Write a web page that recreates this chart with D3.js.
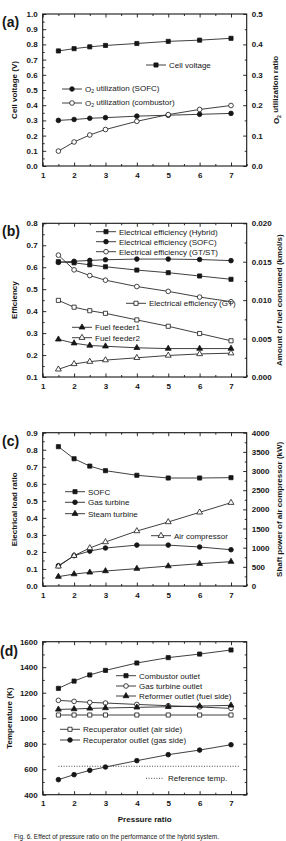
<!DOCTYPE html>
<html>
<head>
<meta charset="utf-8">
<script src="https://cdn.jsdelivr.net/npm/d3@7/dist/d3.min.js"></script>
<style>
body { margin:0; background:#fff; }
svg text { font-family: Arial, "Liberation Sans", sans-serif; fill:#161616; }
.tick text { font-weight:bold; font-size:8px; }
.legend text { font-size:8px; }
.title { font-weight:bold; font-size:8px; }
.plabel { font-weight:bold; font-size:14px; }
</style>
</head>
<body>
<svg id="chart" width="286" height="841"></svg>
<script>
//pressure ratio values shared by every panel
var pressureRatio = [1.5, 2, 2.5, 3, 4, 5, 6, 7];
var xTicks = [1, 2, 3, 4, 5, 6, 7];

//(a) cell voltage and O2 utilization
var cellVoltage = [0.757, 0.772, 0.784, 0.793, 0.806, 0.820, 0.828, 0.840];
var o2UtilSofc = [0.150, 0.153, 0.157, 0.159, 0.164, 0.167, 0.170, 0.173];
var o2UtilCombustor = [0.049, 0.079, 0.102, 0.120, 0.147, 0.169, 0.186, 0.199];
var aLeftTicks = [0.0, 0.1, 0.2, 0.3, 0.4, 0.5, 0.6, 0.7, 0.8, 0.9, 1.0];
var aRightTicks = [0.0, 0.1, 0.2, 0.3, 0.4, 0.5];

//(b) efficiencies and fuel consumed
var effHybrid = [0.625, 0.620, 0.611, 0.602, 0.587, 0.575, 0.560, 0.545];
var effSofc = [0.622, 0.627, 0.631, 0.634, 0.637, 0.637, 0.635, 0.630];
var effGtSt = [0.655, 0.588, 0.562, 0.541, 0.512, 0.490, 0.464, 0.443];
var effGt = [0.449, 0.418, 0.402, 0.390, 0.360, 0.331, 0.298, 0.265];
var fuelFeeder1 = [0.0049, 0.0044, 0.0041, 0.0040, 0.0038, 0.0037, 0.0037, 0.0037];
var fuelFeeder2 = [0.0010, 0.0017, 0.0020, 0.0022, 0.0025, 0.0028, 0.0030, 0.0031];
var bLeftTicks = [0.1, 0.2, 0.3, 0.4, 0.5, 0.6, 0.7, 0.8];
var bRightTicks = [0.000, 0.005, 0.010, 0.015, 0.020];

//(c) electrical load ratio and compressor power
var loadSofc = [0.818, 0.747, 0.704, 0.677, 0.650, 0.634, 0.634, 0.636];
var loadGasTurbine = [0.119, 0.178, 0.205, 0.223, 0.240, 0.240, 0.229, 0.213];
var loadSteamTurbine = [0.055, 0.070, 0.080, 0.088, 0.102, 0.117, 0.131, 0.143];
var airCompressorPower = [513, 791, 991, 1148, 1435, 1670, 1922, 2174];
var cLeftTicks = [0.0, 0.1, 0.2, 0.3, 0.4, 0.5, 0.6, 0.7, 0.8, 0.9];
var cRightTicks = [0, 500, 1000, 1500, 2000, 2500, 3000, 3500, 4000];

//(d) temperatures
var tCombustor = [1234, 1291, 1339, 1375, 1433, 1475, 1503, 1535];
var tGasTurbine = [1140, 1132, 1124, 1119, 1108, 1098, 1088, 1077];
var tReformer = [1069, 1072, 1077, 1080, 1085, 1090, 1095, 1101];
var tRecupAir = [1025, 1025, 1025, 1025, 1025, 1025, 1025, 1025];
var tRecupGas = [518, 557, 591, 617, 667, 714, 750, 792];
var tReference = 623;
var tReferenceSpan = [1.5, 7.25];
var dLeftTicks = [400, 600, 800, 1000, 1200, 1400, 1600];

var svg = d3.select("#chart");
var ink = "#161616";
var x = d3.scaleLinear().domain([1, 7.5]).range([42.7, 246.7]);

var symbols = {
	square: d3.symbol().type(d3.symbolSquare).size(17),
	circle: d3.symbol().type(d3.symbolCircle).size(17),
	triangle: d3.symbol().type(d3.symbolTriangle).size(15)
};

//midpoints between major ticks for the minor ticks
function minorOf(ticks) {
	return d3.pairs(ticks).map(function(p) { return (p[0]+p[1])/2; });
}

function drawMarker(g, shape, filled, px, py) {
	g.append("path")
		.attr("d", symbols[shape]())
		.attr("transform", "translate(" + px + "," + py + ")")
		.attr("fill", filled ? ink : "#fff")
		.attr("stroke", ink)
		.attr("stroke-width", 0.8);
}

function addText(sel, label) {
	//"O2" gets a subscript 2
	if (label.indexOf("O2") == 0) {
		sel.append("tspan").text("O");
		sel.append("tspan").text("2").attr("font-size", "0.65em").attr("dy", "0.3em");
		sel.append("tspan").text(label.slice(2)).attr("dy", "-0.3em");
	} else {
		sel.text(label);
	}
}

function drawPanel(p) {
	var g = svg.append("g");
	var bottom = p.top + p.height;
	var yL = d3.scaleLinear().domain(d3.extent(p.leftTicks)).range([bottom, p.top]);
	var yR = p.rightTicks ? d3.scaleLinear().domain(d3.extent(p.rightTicks)).range([bottom, p.top]) : yL;

	//axes, ticks pointing inward
	g.append("g").attr("transform", "translate(0," + bottom + ")")
		.call(d3.axisBottom(x).tickValues(xTicks).tickSize(-3.5).tickSizeOuter(0).tickPadding(6).tickFormat(d3.format("d")));
	g.append("g").attr("transform", "translate(0," + bottom + ")")
		.call(d3.axisBottom(x).tickValues(minorOf(xTicks).concat([7.5])).tickSize(-2).tickSizeOuter(0).tickFormat(""));
	g.append("g").attr("transform", "translate(0," + p.top + ")")
		.call(d3.axisTop(x).tickValues(xTicks).tickSize(-3.5).tickSizeOuter(0).tickFormat(""));
	g.append("g").attr("transform", "translate(0," + p.top + ")")
		.call(d3.axisTop(x).tickValues(minorOf(xTicks)).tickSize(-2).tickSizeOuter(0).tickFormat(""));

	g.append("g").attr("transform", "translate(" + x.range()[0] + ",0)")
		.call(d3.axisLeft(yL).tickValues(p.leftTicks).tickSize(-3.5).tickSizeOuter(0).tickPadding(5).tickFormat(d3.format(p.leftFormat)));
	g.append("g").attr("transform", "translate(" + x.range()[0] + ",0)")
		.call(d3.axisLeft(yL).tickValues(minorOf(p.leftTicks)).tickSize(-2).tickSizeOuter(0).tickFormat(""));

	var rTicks = p.rightTicks || p.leftTicks;
	g.append("g").attr("transform", "translate(" + x.range()[1] + ",0)")
		.call(d3.axisRight(yR).tickValues(rTicks).tickSize(-3.5).tickSizeOuter(0).tickPadding(5)
			.tickFormat(p.rightTicks ? d3.format(p.rightFormat) : ""));
	g.append("g").attr("transform", "translate(" + x.range()[1] + ",0)")
		.call(d3.axisRight(yR).tickValues(minorOf(rTicks)).tickSize(-2).tickSizeOuter(0).tickFormat(""));

	g.selectAll(".domain").remove();
	g.selectAll(".tick line").attr("stroke", ink).attr("stroke-width", 0.9);
	g.selectAll(".tick text").attr("fill", ink);

	//frame
	g.append("rect")
		.attr("x", x.range()[0]).attr("y", p.top)
		.attr("width", x.range()[1]-x.range()[0]).attr("height", p.height)
		.attr("fill", "none").attr("stroke", ink).attr("stroke-width", 1.1);

	//reference line (dotted)
	if (p.reference != undefined) {
		g.append("line")
			.attr("x1", x(tReferenceSpan[0])).attr("x2", x(tReferenceSpan[1]))
			.attr("y1", yL(p.reference)).attr("y2", yL(p.reference))
			.attr("stroke", "#333").attr("stroke-width", 0.9).attr("stroke-dasharray", "1,1.6");
	}

	//series lines and markers
	p.series.forEach(function(s) {
		var y = s.axis == "right" ? yR : yL;
		var line = d3.line().x(function(d, i) { return x(pressureRatio[i]); }).y(function(d) { return y(d); });
		g.append("path").datum(s.values)
			.attr("d", line).attr("fill", "none").attr("stroke", "#2a2a2a").attr("stroke-width", 0.9);
		s.values.forEach(function(v, i) {
			drawMarker(g, s.shape, s.filled, x(pressureRatio[i]), y(v));
		});
	});

	//legend entries
	var lg = g.append("g").classed("legend", true);
	p.series.forEach(function(s) {
		if (!s.legend) return;
		var lx = s.legend[0], ly = s.legend[1];
		lg.append("line").attr("x1", lx).attr("x2", lx+20).attr("y1", ly).attr("y2", ly)
			.attr("stroke", "#2a2a2a").attr("stroke-width", 0.9);
		drawMarker(lg, s.shape, s.filled, lx+10, ly);
		addText(lg.append("text").attr("x", lx+23).attr("y", ly+2.8), s.label);
	});
	if (p.reference != undefined) {
		var r = p.referenceLegend;
		lg.append("line").attr("x1", r[0]).attr("x2", r[0]+17).attr("y1", r[1]).attr("y2", r[1])
			.attr("stroke", "#333").attr("stroke-width", 0.9).attr("stroke-dasharray", "1,1.6");
		lg.append("text").attr("x", r[0]+22).attr("y", r[1]+2.8).text("Reference temp.");
	}

	//axis titles
	var midY = p.top + p.height/2;
	g.append("text").classed("title", true)
		.attr("transform", "translate(" + p.leftTitleX + "," + midY + ") rotate(-90)")
		.attr("text-anchor", "middle")
		.text(p.leftTitle);
	if (p.rightTitle) {
		addText(g.append("text").classed("title", true)
			.attr("transform", "translate(" + p.rightTitleX + "," + midY + ") rotate(-90)")
			.attr("text-anchor", "middle"), p.rightTitle);
	}

	//panel label
	g.append("text").classed("plabel", true)
		.attr("x", p.labelPos[0]).attr("y", p.labelPos[1])
		.text(p.label);
}

var panels = [
	{
		label: "(a)", labelPos: [2, 27], top: 14, height: 152,
		leftTicks: aLeftTicks, leftFormat: ".1f", rightTicks: aRightTicks, rightFormat: ".1f",
		leftTitle: "Cell voltage (V)", leftTitleX: 17, rightTitle: "O2 utilization ratio", rightTitleX: 279,
		series: [
			{values: cellVoltage, axis: "left", shape: "square", filled: true, label: "Cell voltage", legend: [146, 65]},
			{values: o2UtilSofc, axis: "right", shape: "circle", filled: true, label: "O2 utilization (SOFC)", legend: [62, 89]},
			{values: o2UtilCombustor, axis: "right", shape: "circle", filled: false, label: "O2 utilization (combustor)", legend: [62, 103]}
		]
	},
	{
		label: "(b)", labelPos: [2, 236], top: 223.3, height: 153.7,
		leftTicks: bLeftTicks, leftFormat: ".1f", rightTicks: bRightTicks, rightFormat: ".3f",
		leftTitle: "Efficiency", leftTitleX: 17, rightTitle: "Amount of fuel consumed (kmol/s)", rightTitleX: 282,
		series: [
			{values: effHybrid, axis: "left", shape: "square", filled: true, label: "Electrical efficiency (Hybrid)", legend: [96, 231.7]},
			{values: effSofc, axis: "left", shape: "circle", filled: true, label: "Electrical efficiency (SOFC)", legend: [96, 241.7]},
			{values: effGtSt, axis: "left", shape: "circle", filled: false, label: "Electrical efficiency (GT/ST)", legend: [96, 251.7]},
			{values: effGt, axis: "left", shape: "square", filled: false, label: "Electrical efficiency (GT)", legend: [126, 303.3]},
			{values: fuelFeeder1, axis: "right", shape: "triangle", filled: true, label: "Fuel feeder1", legend: [72, 327.3]},
			{values: fuelFeeder2, axis: "right", shape: "triangle", filled: false, label: "Fuel feeder2", legend: [72, 337.7]}
		]
	},
	{
		label: "(c)", labelPos: [2, 446], top: 432.7, height: 153.3,
		leftTicks: cLeftTicks, leftFormat: ".1f", rightTicks: cRightTicks, rightFormat: "d",
		leftTitle: "Electrical load ratio", leftTitleX: 17, rightTitle: "Shaft power of air compressor (kW)", rightTitleX: 282,
		series: [
			{values: loadSofc, axis: "left", shape: "square", filled: true, label: "SOFC", legend: [65, 491.7]},
			{values: loadGasTurbine, axis: "left", shape: "circle", filled: true, label: "Gas turbine", legend: [65, 502.3]},
			{values: loadSteamTurbine, axis: "left", shape: "triangle", filled: true, label: "Steam turbine", legend: [65, 513.7]},
			{values: airCompressorPower, axis: "right", shape: "triangle", filled: false, label: "Air compressor", legend: [151, 535.7]}
		]
	},
	{
		label: "(d)", labelPos: [0, 656], top: 641.7, height: 153,
		leftTicks: dLeftTicks, leftFormat: "d",
		leftTitle: "Temperature (K)", leftTitleX: 12,
		reference: tReference, referenceLegend: [146, 778.3],
		series: [
			{values: tCombustor, axis: "left", shape: "square", filled: true, label: "Combustor outlet", legend: [116, 675.7]},
			{values: tGasTurbine, axis: "left", shape: "circle", filled: false, label: "Gas turbine outlet", legend: [116, 686]},
			{values: tReformer, axis: "left", shape: "triangle", filled: true, label: "Reformer outlet (fuel side)", legend: [116, 696]},
			{values: tRecupAir, axis: "left", shape: "square", filled: false, label: "Recuperator outlet (air side)", legend: [60, 729.3]},
			{values: tRecupGas, axis: "left", shape: "circle", filled: true, label: "Recuperator outlet (gas side)", legend: [60, 740]}
		]
	}
];

panels.forEach(drawPanel);

//x axis title of the last panel
svg.append("text").classed("title", true)
	.attr("x", (x.range()[0]+x.range()[1])/2).attr("y", 822)
	.attr("text-anchor", "middle").attr("font-size", "8.5px")
	.text("Pressure ratio");

//figure caption, only a sliver of it shows at the bottom edge
svg.append("text")
	.attr("x", 14).attr("y", 838.5)
	.attr("font-size", "6.5px").attr("fill", "#777")
	.text("Fig. 6. Effect of pressure ratio on the performance of the hybrid system.");
</script>
</body>
</html>
